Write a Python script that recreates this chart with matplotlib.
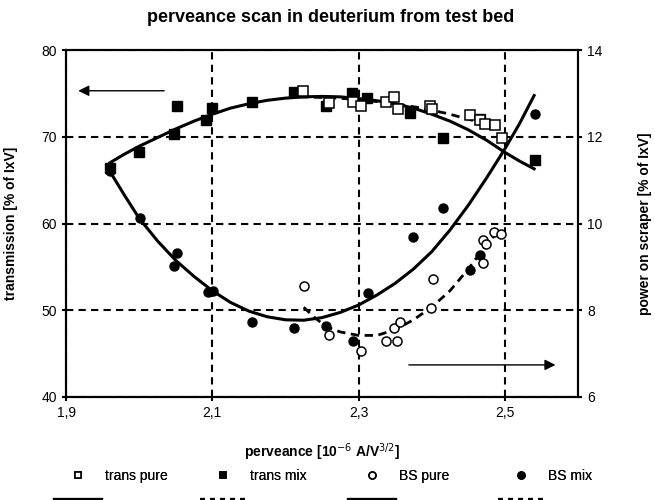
import matplotlib.pyplot as plt
from matplotlib.lines import Line2D

plt.rcParams['font.family'] = ['Liberation Sans', 'DejaVu Sans']

# transmission data, left axis [% of IxV]
trans_pure_x = [2.224, 2.259, 2.293, 2.303, 2.338, 2.349, 2.354, 2.398, 2.400,
                2.452, 2.466, 2.473, 2.486, 2.496]
trans_pure_y = [75.3, 73.9, 74.0, 73.6, 74.0, 74.6, 73.2, 73.6, 73.2,
                72.5, 71.9, 71.5, 71.3, 69.8]
trans_mix_x = [1.960, 2.000, 2.047, 2.052, 2.091, 2.100, 2.154, 2.212, 2.256,
               2.291, 2.311, 2.370, 2.415, 2.466, 2.541]
trans_mix_y = [66.4, 68.2, 70.3, 73.5, 71.9, 73.3, 74.0, 75.2, 73.5,
               75.0, 74.5, 72.7, 69.8, 72.1, 67.3]

# power on scraper data, right axis [% of IxV]
bs_pure_x = [2.225, 2.260, 2.303, 2.338, 2.349, 2.352, 2.356, 2.399, 2.402,
             2.470, 2.470, 2.474, 2.485, 2.495]
bs_pure_y = [8.55, 7.43, 7.05, 7.28, 7.59, 7.28, 7.74, 8.05, 8.72,
             9.09, 9.61, 9.52, 9.81, 9.76]
bs_mix_x = [1.960, 2.001, 2.048, 2.052, 2.094, 2.101, 2.154, 2.212, 2.256,
            2.292, 2.313, 2.374, 2.416, 2.452, 2.466, 2.541]
bs_mix_y = [11.2, 10.12, 9.01, 9.32, 8.41, 8.45, 7.72, 7.59, 7.63,
            7.28, 8.39, 9.68, 10.35, 8.92, 9.28, 12.53]

# fit curves
fit_trans_mix_x = [1.96, 1.98, 2.0, 2.025, 2.05, 2.075, 2.1, 2.125, 2.15, 2.175, 2.2,
                   2.225, 2.25, 2.275, 2.3, 2.325, 2.35, 2.375, 2.4, 2.425, 2.45,
                   2.475, 2.5, 2.52, 2.54]
fit_trans_mix_y = [67.0, 68.0, 68.9, 69.9, 70.9, 71.8, 72.6, 73.3, 73.8, 74.2, 74.45,
                   74.6, 74.65, 74.6, 74.4, 74.15, 73.8, 73.3, 72.6, 71.8, 70.8,
                   69.6, 68.2, 67.2, 66.3]
fit_trans_pure_x = [2.22, 2.26, 2.30, 2.34, 2.38, 2.42, 2.46, 2.49]
fit_trans_pure_y = [74.6, 74.5, 74.3, 73.9, 73.4, 72.7, 71.8, 71.0]
fit_bs_mix_x = [1.96, 1.98, 2.0, 2.025, 2.05, 2.075, 2.1, 2.125, 2.15, 2.175, 2.2,
                2.225, 2.25, 2.275, 2.3, 2.325, 2.35, 2.375, 2.4, 2.425, 2.45,
                2.475, 2.5, 2.52, 2.54]
fit_bs_mix_y = [11.2, 10.65, 10.12, 9.6, 9.15, 8.78, 8.45, 8.18, 7.98, 7.85, 7.78,
                7.77, 7.83, 7.95, 8.12, 8.35, 8.62, 8.95, 9.35, 9.85, 10.42,
                11.05, 11.72, 12.3, 12.95]
fit_bs_pure_x = [2.225, 2.24, 2.256, 2.275, 2.3, 2.325, 2.35, 2.375, 2.4, 2.425,
                 2.45, 2.475, 2.495]
fit_bs_pure_y = [8.07, 7.83, 7.62, 7.5, 7.42, 7.42, 7.55, 7.78, 8.07, 8.45,
                 8.95, 9.52, 9.9]

xticks = [1.9, 2.1, 2.3, 2.5]
xtick_labels = ['1,9', '2,1', '2,3', '2,5']
left_ticks = [40, 50, 60, 70, 80]
right_ticks = [6, 8, 10, 12, 14]

fig = plt.figure(figsize=(6.55, 5.0), dpi=100)
ax = fig.add_axes([66/655, 1-397/500, 512/655, 347/500])
ax2 = ax.twinx()

ax.set_xlim(1.9, 2.6)
ax.set_ylim(40, 80)
ax2.set_ylim(6, 14)
ax.set_xticks(xticks)
ax.set_xticklabels(xtick_labels)
ax.set_yticks(left_ticks)
ax2.set_yticks(right_ticks)

ax.grid(True, color='black', linestyle=(0, (3.5, 2.5)), linewidth=1.5)
ax.set_axisbelow(True)

for a in (ax, ax2):
    for s in a.spines.values():
        s.set_linewidth(1.5)
    a.tick_params(direction='out', length=3, width=1.5, labelsize=10)

# curves
ax.plot(fit_trans_mix_x, fit_trans_mix_y, color='black', lw=2.2)
ax.plot(fit_trans_pure_x, fit_trans_pure_y, color='black', lw=2.0, linestyle=(0, (3, 2)))
ax2.plot(fit_bs_mix_x, fit_bs_mix_y, color='black', lw=2.2)
ax2.plot(fit_bs_pure_x, fit_bs_pure_y, color='black', lw=2.0, linestyle=(0, (3, 2)))

ax.plot(trans_mix_x, trans_mix_y, 's', ms=6.5, mfc='black', mec='black', zorder=4)
ax.plot(trans_pure_x, trans_pure_y, 's', ms=6.5, mfc='white', mec='black', mew=1.1, zorder=5)
ax2.plot(bs_mix_x, bs_mix_y, 'o', ms=6.5, mfc='black', mec='black', zorder=4)
ax2.plot(bs_pure_x, bs_pure_y, 'o', ms=6.5, mfc='white', mec='black', mew=1.1, zorder=5)

# arrows pointing to the axis each curve belongs to
ax.annotate('', xy=(1.913, 75.3), xytext=(2.038, 75.3),
            arrowprops=dict(arrowstyle='-|>', color='black', lw=1.0, mutation_scale=16))
ax2.annotate('', xy=(2.573, 6.74), xytext=(2.365, 6.74),
             arrowprops=dict(arrowstyle='-|>', color='black', lw=1.0, mutation_scale=16))

fig.text(0.505, 0.966, 'perveance scan in deuterium from test bed',
         ha='center', va='center', fontsize=13, fontweight='bold')
ax.set_xlabel('perveance [10$^{-6}$ A/V$^{3/2}$]', fontsize=10, fontweight='bold')
ax.xaxis.set_label_coords(0.5, -0.127)
ax.set_ylabel('transmission [% of IxV]', fontsize=10, fontweight='bold')
ax.yaxis.set_label_coords(-0.094, 0.5)
ax2.set_ylabel('power on scraper [% of IxV]', fontsize=10, fontweight='bold')
ax2.yaxis.set_label_coords(1.117, 0.5)

# legend: one small column per series, marker on top and fit line below it
legend_labels = ['trans pure', 'trans mix', 'BS pure', 'BS mix']
legend_markers = ['s', 's', 'o', 'o']
legend_fill = ['white', 'black', 'white', 'black']
legend_lines = ['-', (0, (1.2, 1.2)), '-', (0, (1.2, 1.2))]
legend_x = [55, 200, 349, 498]

for lab, mk, fc, lsty, lx in zip(legend_labels, legend_markers, legend_fill,
                                 legend_lines, legend_x):
    h = [Line2D([], [], marker=mk, ls='none', ms=5, mfc=fc, mec='black', mew=1.2),
         Line2D([], [], color='black', lw=3, linestyle=lsty)]
    leg = fig.legend(h, [lab, ' '], frameon=False, loc='upper left',
                     bbox_to_anchor=(lx/655, 1-469/500), fontsize=10,
                     handlelength=3.3, handletextpad=0.3,
                     labelspacing=0.75, borderpad=0, borderaxespad=0)
    fig.add_artist(leg)

fig.savefig('out.png', dpi=100)
